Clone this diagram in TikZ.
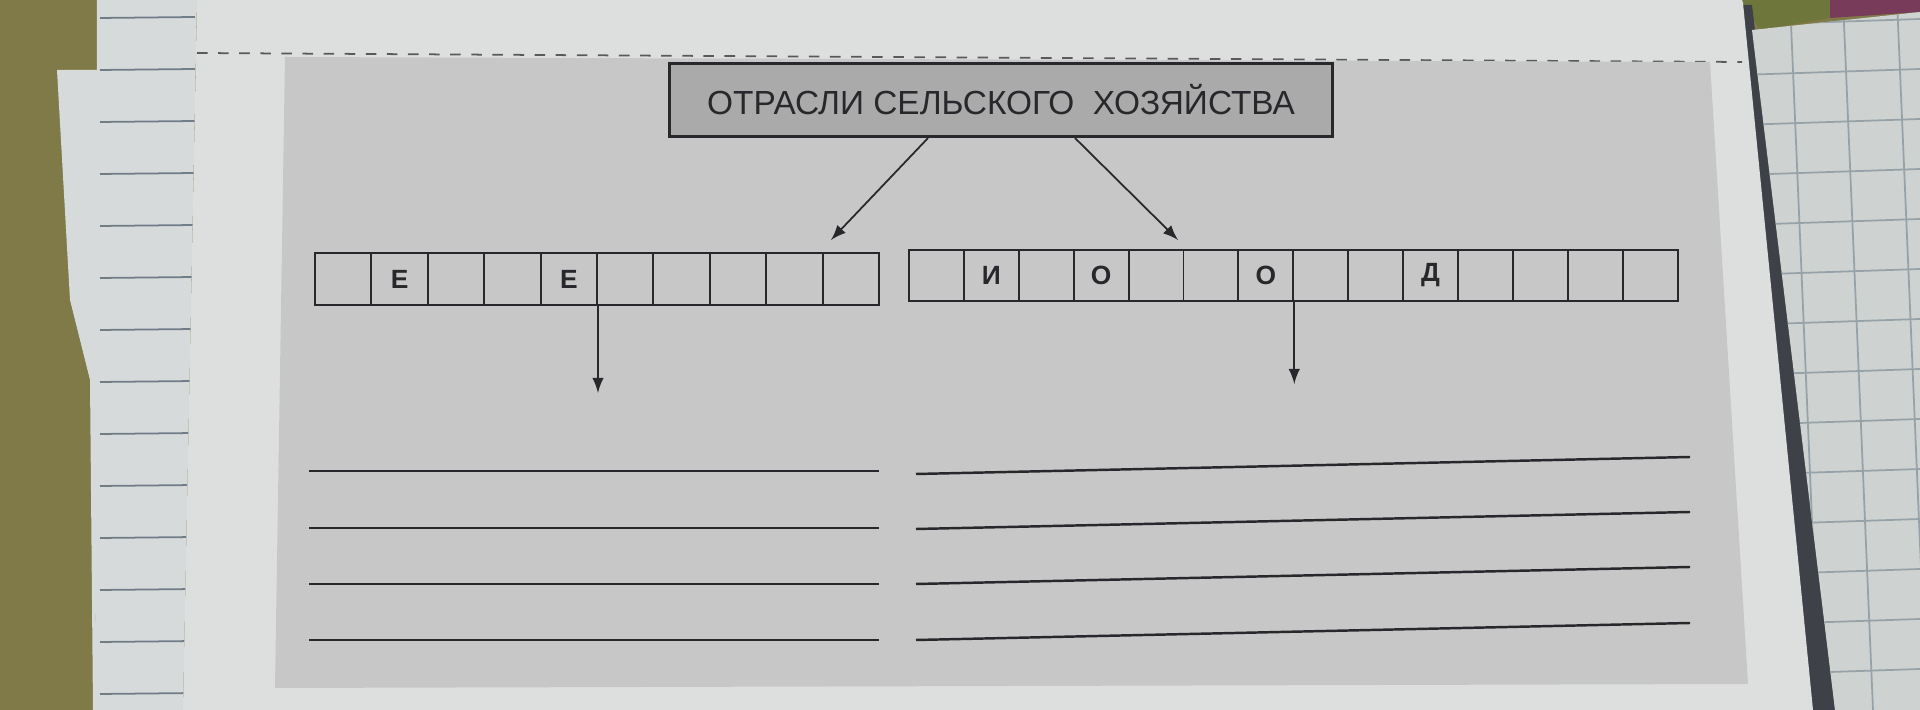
\documentclass[tikz,border=0pt]{standalone}
\usepackage{fontspec}
\setmainfont{Liberation Sans}
\usetikzlibrary{positioning, arrows, calc}

\definecolor{fabric}{RGB}{128,122,72}
\definecolor{fabricgreen}{RGB}{110,118,60}
\definecolor{fabricpink}{RGB}{120,60,90}
\definecolor{notepaper}{RGB}{214,218,219}
\definecolor{noteline}{RGB}{112,124,134}
\definecolor{paper}{RGB}{221,223,222}
\definecolor{panel}{RGB}{198,199,198}
\definecolor{titlefill}{RGB}{170,170,170}
\definecolor{ink}{RGB}{40,40,44}
\definecolor{gridpage}{RGB}{206,211,210}
\definecolor{gridline}{RGB}{150,162,168}
\definecolor{shadow}{RGB}{62,66,72}

\begin{document}
\begin{tikzpicture}[x=0.01cm, y=-0.01cm,
	titlebox/.style={draw=ink, line width=0.9pt, fill=titlefill, rectangle, text centered, minimum width=6.62cm, minimum height=0.73cm, text=ink, font=\fontsize{9.5}{10}\selectfont},
	cell/.style={draw=ink, line width=0.55pt, rectangle, text centered, minimum width=0.564cm, minimum height=0.52cm, inner sep=0pt, text=ink, font=\bfseries\fontsize{7.5}{8}\selectfont},
	arr/.style={-latex, draw=ink, line width=0.5pt},
	answer/.style={draw=ink, line width=0.7pt}]
			
			%Background
			\useasboundingbox (0,0) rectangle (1920,710);
			\fill[fabric] (0,0) rectangle (1920,710);
			\fill[fabricgreen] (1742,0) -- (1830,0) -- (1830,18) -- (1760,30) -- cycle;
			\fill[fabricpink] (1830,0) -- (1920,0) -- (1920,12) -- (1830,18) -- cycle;
			\fill[notepaper] (57,70) -- (100,70) -- (95,710) -- (93,710) -- (90,380) -- (70,300) -- cycle;
			\fill[notepaper] (97,0) -- (197,0) -- (183,710) -- (95,710) -- cycle;
			\foreach \y in {18,70,...,700}
				\draw[noteline, line width=0.5pt] (100,\y) -- (195,{\y-1});
			\fill[shadow] (1742,5) -- (1752,5) -- (1835,710) -- (1812,710) -- cycle;
			\begin{scope}
				\clip (1752,30) -- (1920,12) -- (1920,710) -- (1835,710) -- cycle;
				\fill[gridpage] (1740,0) rectangle (1920,710);
				\foreach \x in {1737,1790,1843,1897}
					\draw[gridline, line width=0.5pt] (\x,0) -- ({\x+30},710);
				\foreach \y in {22,72,...,710}
					\draw[gridline, line width=0.5pt] (1740,{\y+3}) -- (1920,{\y-3});
			\end{scope}
			\fill[paper] (197,3) -- (1743,3) -- (1813,710) -- (183,710) -- cycle;
			\fill[paper] (197,0) -- (1742,0) -- (1743,3) -- (197,3) -- cycle;
			\draw[gray!70!black, dashed, line width=0.5pt] (197,53) -- (1742,62);
			\fill[panel] (285,57) -- (1710,62) -- (1748,684) -- (275,688) -- cycle;
			
			%Nodes
			\node (title) at (1001,100) [titlebox] {ОТРАСЛИ СЕЛЬСКОГО\ \ ХОЗЯЙСТВА};
			
			\foreach \ch [count=\i] in {{},Е,{},{},Е,{},{},{},{},{}}
				\node (L\i) at ({315+56.4*\i-28.2},279) [cell] {\ch};
			
			\foreach \ch [count=\i] in {{},И,{},О,{},{},О,{},{},Д,{},{},{},{}}
				\node (R\i) at ({909+54.9*\i-27.45},275.5) [cell, minimum width=0.549cm, minimum height=0.51cm] {\ch};
			
			%Links
			\coordinate (tipL) at (831,240);
			\coordinate (tipR) at (1178,240);
			\draw[arr] ([xshift=-0.73cm]title.south) -- (tipL);
			\draw[arr] ([xshift=0.74cm]title.south) -- (tipR);
			\draw[arr] (L5.south east) -- ++(0,87) coordinate (downL);
			\draw[arr] (R7.south east) -- ++(0,82) coordinate (downR);
			
			%Lines
			\foreach \y in {471,528,584,640}
				\draw[answer] (309,\y) -- (879,\y);
			\foreach \y in {474,529,584,640}
				\draw[answer] (916,\y) -- (1690,{\y-17});
			
			\end{tikzpicture}
\end{document}
